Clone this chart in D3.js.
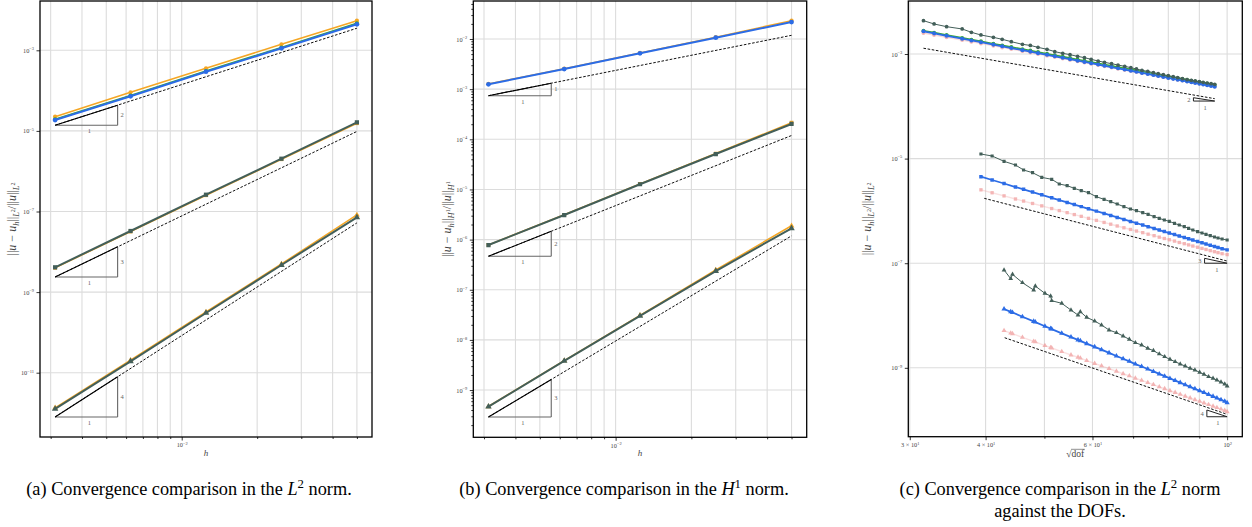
<!DOCTYPE html>
<html><head><meta charset="utf-8">
<script src="https://cdn.jsdelivr.net/npm/d3@7"></script>
<style>body{margin:0;background:#fff}svg{display:block}</style>
</head><body>
<svg id="chart" width="1252" height="527"></svg>
<script>
// ---------------- DATA ----------------
// Panels (a) and (b): mesh size h
const hValues = [3.125e-3, 6.25e-3, 1.25e-2, 2.5e-2, 5e-2];
const hRefEnds = [3.125e-3, 5e-2];
const hTriangleX = [3.125e-3, 5.55e-3];

// (a) L2 errors
const aOrder2Yellow = [2.25e-5, 9.07e-5, 3.57e-4, 1.41e-3, 5.43e-3];
const aOrder2Green  = [1.93e-5, 7.50e-5, 3.06e-4, 1.17e-3, 4.68e-3];
const aOrder2Blue   = [1.86e-5, 7.22e-5, 2.94e-4, 1.12e-3, 4.42e-3];
const aOrder3Yellow = [4.00e-9, 3.18e-8, 2.53e-7, 1.98e-6, 1.55e-5];
const aOrder3Dark   = [4.12e-9, 3.28e-8, 2.61e-7, 2.04e-6, 1.63e-5];
const aOrder4Yellow = [1.34e-12, 2.04e-11, 3.21e-10, 5.00e-9, 8.20e-8];
const aOrder4Dark   = [1.26e-12, 1.92e-11, 3.03e-10, 4.70e-9, 7.18e-8];
const aRef2 = [1.38e-5, 3.53e-3];
const aRef3 = [2.37e-9, 9.70e-6];
const aRef4 = [7.96e-13, 5.22e-8];
const aTriangleTop = [4.35e-5, 1.33e-8, 7.92e-12];
const aYTicks = [1e-3, 1e-5, 1e-7, 1e-9, 1e-11];
const aYTickLabels = ["10^−3", "10^−5", "10^−7", "10^−9", "10^−11"];

// (b) H1 errors
const bOrder1Yellow = [1.27e-3, 2.56e-3, 5.27e-3, 1.09e-2, 2.32e-2];
const bOrder1Blue   = [1.25e-3, 2.52e-3, 5.19e-3, 1.06e-2, 2.18e-2];
const bOrder2Yellow = [7.85e-7, 3.12e-6, 1.29e-5, 5.20e-5, 2.14e-4];
const bOrder2Dark   = [7.80e-7, 3.09e-6, 1.27e-5, 5.09e-5, 2.02e-4];
const bOrder3Yellow = [4.70e-10, 3.85e-9, 3.08e-8, 2.48e-7, 1.89e-6];
const bOrder3Dark   = [4.66e-10, 3.80e-9, 3.00e-8, 2.36e-7, 1.68e-6];
const bRef1 = [7.40e-4, 1.184e-2];
const bRef2 = [4.65e-7, 1.19e-4];
const bRef3 = [2.90e-10, 1.188e-6];
const bTriangleTop = [1.314e-3, 1.467e-6, 1.623e-9];
const bYTicks = [1e-2, 1e-3, 1e-4, 1e-5, 1e-6, 1e-7, 1e-8, 1e-9];
const bYTickLabels = ["10^−2", "10^−3", "10^−4", "10^−5", "10^−6", "10^−7", "10^−8", "10^−9"];

const hMajorTicks = [1e-2];
const hMajorTickLabels = ["10^−2"];
const hMinorTicks = [3e-3, 4e-3, 5e-3, 6e-3, 7e-3, 8e-3, 9e-3, 2e-2, 3e-2, 4e-2, 5e-2];

// (c) L2 errors against sqrt(dof)
const cG1X = [31.6, 32.9, 34.5, 36.6, 37.9, 39.3, 41.2, 42.6, 44.1, 46.0, 47.4, 48.8, 50.5, 52.0, 53.6, 55.1, 56.7, 58.2, 59.7, 61.3, 62.8, 64.5, 66.1, 67.8, 69.4, 70.9, 72.4, 74.0, 75.6, 77.0, 78.5, 80.0, 81.5, 82.9, 84.4, 85.9, 87.3, 88.6, 90.0, 91.3, 92.7, 94.1, 95.4];
const cG1Dark = [4.34e-3, 3.75e-3, 3.33e-3, 3.01e-3, 2.60e-3, 2.31e-3, 2.08e-3, 1.91e-3, 1.72e-3, 1.53e-3, 1.46e-3, 1.34e-3, 1.23e-3, 1.11e-3, 1.03e-3, 9.71e-4, 9.02e-4, 8.51e-4, 7.91e-4, 7.35e-4, 6.93e-4, 6.53e-4, 6.16e-4, 5.81e-4, 5.48e-4, 5.17e-4, 4.87e-4, 4.66e-4, 4.40e-4, 4.21e-4, 4.02e-4, 3.85e-4, 3.69e-4, 3.53e-4, 3.38e-4, 3.23e-4, 3.14e-4, 3.05e-4, 2.96e-4, 2.87e-4, 2.79e-4, 2.71e-4, 2.63e-4];
const cG1Green = [2.794e-3, 2.559e-3, 2.305e-3, 2.036e-3, 1.885e-3, 1.750e-3, 1.575e-3, 1.462e-3, 1.357e-3, 1.240e-3, 1.163e-3, 1.089e-3, 1.014e-3, 9.49e-4, 8.91e-4, 8.38e-4, 7.86e-4, 7.44e-4, 7.05e-4, 6.67e-4, 6.31e-4, 5.97e-4, 5.65e-4, 5.35e-4, 5.09e-4, 4.86e-4, 4.63e-4, 4.43e-4, 4.23e-4, 4.06e-4, 3.89e-4, 3.74e-4, 3.58e-4, 3.46e-4, 3.33e-4, 3.21e-4, 3.10e-4, 3.00e-4, 2.90e-4, 2.81e-4, 2.72e-4, 2.63e-4, 2.55e-4];
const cG1Blue = [2.713e-3, 2.480e-3, 2.229e-3, 1.965e-3, 1.816e-3, 1.684e-3, 1.513e-3, 1.403e-3, 1.300e-3, 1.185e-3, 1.111e-3, 1.039e-3, 9.656e-4, 9.028e-4, 8.465e-4, 7.956e-4, 7.459e-4, 7.052e-4, 6.666e-4, 6.302e-4, 5.958e-4, 5.632e-4, 5.324e-4, 5.036e-4, 4.786e-4, 4.563e-4, 4.350e-4, 4.159e-4, 3.966e-4, 3.802e-4, 3.645e-4, 3.495e-4, 3.350e-4, 3.231e-4, 3.106e-4, 2.995e-4, 2.888e-4, 2.793e-4, 2.701e-4, 2.618e-4, 2.531e-4, 2.447e-4, 2.373e-4];
const cG1Pink = [2.523e-3, 2.314e-3, 2.086e-3, 1.849e-3, 1.712e-3, 1.593e-3, 1.436e-3, 1.336e-3, 1.240e-3, 1.134e-3, 1.065e-3, 9.99e-4, 9.31e-4, 8.72e-4, 8.19e-4, 7.72e-4, 7.25e-4, 6.87e-4, 6.51e-4, 6.16e-4, 5.84e-4, 5.53e-4, 5.23e-4, 4.96e-4, 4.72e-4, 4.51e-4, 4.31e-4, 4.13e-4, 3.94e-4, 3.78e-4, 3.63e-4, 3.48e-4, 3.35e-4, 3.23e-4, 3.11e-4, 3.00e-4, 2.90e-4, 2.81e-4, 2.72e-4, 2.64e-4, 2.55e-4, 2.47e-4, 2.40e-4];

const cG2X = [39.3, 41.0, 42.9, 44.8, 46.2, 47.8, 49.5, 51.4, 52.9, 54.5, 56.0, 57.5, 59.1, 60.9, 62.7, 64.3, 65.9, 67.6, 69.3, 70.9, 72.6, 74.1, 75.8, 77.3, 78.8, 80.3, 81.9, 83.4, 85.0, 86.4, 87.8, 89.4, 90.9, 92.3, 93.8, 95.3, 96.6, 98.1, 100.0];
const cG2Dark = [1.224e-5, 1.121e-5, 8.87e-6, 7.54e-6, 6.05e-6, 5.38e-6, 4.38e-6, 4.02e-6, 3.27e-6, 3.04e-6, 2.70e-6, 2.44e-6, 2.23e-6, 1.87e-6, 1.66e-6, 1.50e-6, 1.355e-6, 1.205e-6, 1.087e-6, 1.010e-6, 9.25e-7, 8.60e-7, 7.76e-7, 7.21e-7, 6.70e-7, 6.32e-7, 5.78e-7, 5.37e-7, 4.99e-7, 4.64e-7, 4.31e-7, 4.01e-7, 3.78e-7, 3.56e-7, 3.36e-7, 3.17e-7, 3.03e-7, 2.90e-7, 2.78e-7];
const cG2Blue = [4.513e-6, 3.900e-6, 3.342e-6, 2.861e-6, 2.585e-6, 2.294e-6, 2.035e-6, 1.783e-6, 1.610e-6, 1.454e-6, 1.320e-6, 1.208e-6, 1.096e-6, 9.90e-7, 8.94e-7, 8.18e-7, 7.49e-7, 6.86e-7, 6.30e-7, 5.82e-7, 5.38e-7, 4.99e-7, 4.63e-7, 4.31e-7, 4.03e-7, 3.77e-7, 3.53e-7, 3.31e-7, 3.11e-7, 2.93e-7, 2.77e-7, 2.60e-7, 2.46e-7, 2.33e-7, 2.20e-7, 2.09e-7, 1.99e-7, 1.89e-7, 1.80e-7];
const cG2Pink = [2.529e-6, 2.222e-6, 1.938e-6, 1.689e-6, 1.543e-6, 1.388e-6, 1.249e-6, 1.110e-6, 1.015e-6, 9.27e-7, 8.51e-7, 7.87e-7, 7.21e-7, 6.59e-7, 6.02e-7, 5.57e-7, 5.15e-7, 4.76e-7, 4.42e-7, 4.12e-7, 3.84e-7, 3.59e-7, 3.36e-7, 3.15e-7, 2.97e-7, 2.81e-7, 2.65e-7, 2.49e-7, 2.36e-7, 2.24e-7, 2.13e-7, 2.02e-7, 1.92e-7, 1.83e-7, 1.74e-7, 1.66e-7, 1.59e-7, 1.52e-7, 1.46e-7];

const cG3X = [42.9, 44.0, 44.3, 46.0, 48.0, 48.3, 50.1, 51.2, 51.4, 53.4, 55.3, 56.8, 57.3, 58.7, 60.5, 62.1, 63.9, 65.7, 67.4, 69.0, 70.6, 72.3, 74.0, 75.6, 77.3, 78.9, 80.5, 82.1, 83.7, 85.3, 86.9, 88.5, 90.1, 91.6, 93.2, 94.8, 96.2, 97.7, 99.1, 100.0];
const cG3Dark = [7.41e-8, 5.06e-8, 6.12e-8, 4.24e-8, 3.07e-8, 3.66e-8, 2.65e-8, 2.36e-8, 1.92e-8, 1.71e-8, 1.27e-8, 1.02e-8, 1.18e-8, 9.22e-9, 7.85e-9, 6.58e-9, 5.28e-9, 4.70e-9, 4.06e-9, 3.50e-9, 3.02e-9, 2.73e-9, 2.36e-9, 2.13e-9, 1.84e-9, 1.63e-9, 1.45e-9, 1.31e-9, 1.18e-9, 1.08e-9, 9.77e-10, 9.08e-10, 8.19e-10, 7.50e-10, 6.77e-10, 6.29e-10, 5.84e-10, 5.35e-10, 4.90e-10, 4.49e-10];
const cG3Blue = [1.331e-8, 1.177e-8, 1.141e-8, 9.48e-9, 7.73e-9, 7.50e-9, 6.23e-9, 5.61e-9, 5.51e-9, 4.57e-9, 3.87e-9, 3.42e-9, 3.28e-9, 2.90e-9, 2.51e-9, 2.22e-9, 1.93e-9, 1.68e-9, 1.49e-9, 1.33e-9, 1.18e-9, 1.06e-9, 9.48e-10, 8.53e-10, 7.64e-10, 6.92e-10, 6.27e-10, 5.71e-10, 5.21e-10, 4.75e-10, 4.33e-10, 3.97e-10, 3.64e-10, 3.36e-10, 3.08e-10, 2.84e-10, 2.64e-10, 2.45e-10, 2.29e-10, 2.15e-10];
const cG3Pink = [5.14e-9, 4.62e-9, 4.49e-9, 3.83e-9, 3.21e-9, 3.13e-9, 2.66e-9, 2.43e-9, 2.39e-9, 2.04e-9, 1.76e-9, 1.59e-9, 1.53e-9, 1.37e-9, 1.21e-9, 1.09e-9, 9.65e-10, 8.59e-10, 7.71e-10, 7.01e-10, 6.33e-10, 5.75e-10, 5.22e-10, 4.77e-10, 4.33e-10, 3.98e-10, 3.65e-10, 3.37e-10, 3.11e-10, 2.87e-10, 2.65e-10, 2.46e-10, 2.28e-10, 2.13e-10, 1.98e-10, 1.84e-10, 1.73e-10, 1.62e-10, 1.53e-10, 1.45e-10];

const cRef1X = [31.6, 95.4], cRef1Y = [1.29e-3, 1.40e-4];
const cRef2X = [39.8, 100],  cRef2Y = [1.74e-6, 1.10e-7];
const cRef3X = [43.0, 100],  cRef3Y = [3.76e-9, 1.29e-10];
const cTri1 = {x: [88.0, 95.4], y: [1.26e-4, 1.46e-4]};
const cTri2 = {x: [91.8, 100],  y: [1.00e-7, 1.24e-7]};
const cTri3 = {x: [92.6, 100],  y: [1.16e-10, 1.56e-10]};
const cXGrid = [30, 40, 50, 60, 70, 80, 90, 100];
const cXTicks = [30, 40, 60, 100];
const cXTickLabels = ["3 × 10^1", "4 × 10^1", "6 × 10^1", "10^2"];
const cYTicks = [1e-3, 1e-5, 1e-7, 1e-9];
const cYTickLabels = ["10^−3", "10^−5", "10^−7", "10^−9"];

const captions = [
  ["(a) Convergence comparison in the ", "L", "2", " norm."],
  ["(b) Convergence comparison in the ", "H", "1", " norm."],
  ["(c) Convergence comparison in the ", "L", "2", " norm"]
];

// ---------------- DRAWING ----------------
const svg = d3.select('#chart');
const SERIF = "'Liberation Serif','DejaVu Serif',serif";
const COL = {yellow:'#f5a623', green:'#38a838', blue:'#2c6ce6', dark:'#435f59', pink:'#f09c9c', grid:'#dcdcdc', leg:'#666'};

function rich(sel, segs, fs) {
  let prev = 0;
  segs.forEach(s => {
    const t = sel.append('tspan').text(s.t).attr('font-size', fs * (s.s || 1));
    if (s.i) t.attr('font-style', 'italic');
    const off = (s.o || 0) * fs;
    if (off !== prev) t.attr('dy', off - prev);
    prev = off;
  });
}
function powSegs(str) {
  const p = str.split('^');
  return p.length === 1 ? [{t: p[0]}] : [{t: p[0]}, {t: p[1], o: -0.42, s: 0.7}];
}

let clipId = 0;
function panel(cfg) {
  const g = svg.append('g');
  const x = d3.scaleLog().domain(cfg.xDomain).range([cfg.left, cfg.right]);
  const y = d3.scaleLog().domain(cfg.yDomain).range([cfg.bottom, cfg.top]);
  // grid
  g.append('g').selectAll('line').data(cfg.xGrid).join('line')
    .attr('x1', d => x(d)).attr('x2', d => x(d)).attr('y1', cfg.top).attr('y2', cfg.bottom)
    .attr('stroke', COL.grid).attr('stroke-width', 1.1);
  g.append('g').selectAll('line').data(cfg.yTicks).join('line')
    .attr('y1', d => y(d)).attr('y2', d => y(d)).attr('x1', cfg.left).attr('x2', cfg.right)
    .attr('stroke', COL.grid).attr('stroke-width', 1.1);

  const id = 'clip' + (clipId++);
  svg.append('clipPath').attr('id', id).append('rect')
    .attr('x', cfg.left).attr('y', cfg.top).attr('width', cfg.right - cfg.left).attr('height', cfg.bottom - cfg.top);
  const plot = g.append('g').attr('clip-path', `url(#${id})`);

  // reference lines
  cfg.refs.forEach(r => {
    plot.append('path').attr('d', d3.line().x(d => x(d[0])).y(d => y(d[1]))(r.x.map((v, i) => [v, r.y[i]])))
      .attr('fill', 'none').attr('stroke', '#111').attr('stroke-width', 1).attr('stroke-dasharray', '2.6,1.6');
  });
  // triangles
  cfg.tris.forEach(t => {
    const x0 = x(t.x[0]), x1 = x(t.x[1]), yl = y(t.y[0]), yh = y(t.y[1]);
    const lg = plot.append('g');
    if (t.dir === 'up') {
      lg.append('line').attr('x1', x0).attr('y1', yl).attr('x2', x1).attr('y2', yl).attr('stroke', COL.leg).attr('stroke-width', 1.1);
      lg.append('line').attr('x1', x1).attr('y1', yl).attr('x2', x1).attr('y2', yh).attr('stroke', COL.leg).attr('stroke-width', 1.1);
      lg.append('line').attr('x1', x0).attr('y1', yl).attr('x2', x1).attr('y2', yh).attr('stroke', '#000').attr('stroke-width', 1.1);
      lg.append('text').attr('x', x1 + 3).attr('y', (yl + yh) / 2 + 2).text(t.k)
        .attr('font-family', SERIF).attr('font-size', 6.5).attr('fill', '#666');
      lg.append('text').attr('x', (x0 + x1) / 2 + 3).attr('y', yl + 8).attr('text-anchor', 'middle').text('1')
        .attr('font-family', SERIF).attr('font-size', 6.5).attr('fill', '#666');
    } else {
      lg.append('path').attr('d', `M${x0},${yh}L${x0},${yl}L${x1},${yl}Z`).attr('fill', 'none').attr('stroke', '#222').attr('stroke-width', 1);
      lg.append('text').attr('x', x0 - 3).attr('y', (yl + yh) / 2 + 2.5).attr('text-anchor', 'end').text(t.k)
        .attr('font-family', SERIF).attr('font-size', 6.5).attr('fill', '#666');
      lg.append('text').attr('x', (x0 + x1) / 2 + 1).attr('y', yl + 8.5).attr('text-anchor', 'middle').text('1')
        .attr('font-family', SERIF).attr('font-size', 6.5).attr('fill', '#666');
    }
  });
  // series
  cfg.series.forEach(s => {
    const pts = s.x.map((v, i) => [v, s.y[i]]);
    const sg = plot.append('g').attr('opacity', s.op || 1);
    sg.append('path').attr('d', d3.line().x(d => x(d[0])).y(d => y(d[1]))(pts))
      .attr('fill', 'none').attr('stroke', s.c).attr('stroke-width', s.lw).attr('stroke-opacity', s.lop || 1)
      .attr('stroke-linejoin', 'round');
    sg.selectAll('path.m').data(pts).join('path').attr('class', 'm')
      .attr('transform', d => `translate(${x(d[0])},${y(d[1])})`)
      .attr('d', d3.symbol().type(s.m).size(s.ms))
      .attr('fill', s.c);
  });

  // axes
  const styleAxis = (ga) => {
    ga.select('.domain').remove();
    ga.selectAll('.tick line').attr('stroke', '#000').attr('stroke-width', 0.8);
    ga.attr('font-family', SERIF).attr('font-size', 6.3);
    ga.selectAll('.tick text').attr('fill', '#444').each(function () {
      const s = this.textContent; const t = d3.select(this); t.text(null); rich(t, powSegs(s), 6.3);
    });
  };
  const xMaj = d3.axisBottom(x).tickValues(cfg.xTicks).tickSize(3.5).tickPadding(2.5)
    .tickFormat((d, i) => cfg.xTickLabels[i]);
  g.append('g').attr('transform', `translate(0,${cfg.bottom})`).call(xMaj).call(styleAxis);
  if (cfg.xMinor) {
    g.append('g').attr('transform', `translate(0,${cfg.bottom})`)
      .call(d3.axisBottom(x).tickValues(cfg.xMinor).tickSize(2).tickFormat(() => '')).call(styleAxis);
  }
  const yMaj = d3.axisLeft(y).tickValues(cfg.yTicks).tickSize(3.5).tickPadding(2.5)
    .tickFormat((d, i) => cfg.yTickLabels[i]);
  g.append('g').attr('transform', `translate(${cfg.left},0)`).call(yMaj).call(styleAxis);
  if (cfg.yMinor) {
    g.append('g').attr('transform', `translate(${cfg.left},0)`)
      .call(d3.axisLeft(y).tickValues(cfg.yMinor).tickSize(2).tickFormat(() => '')).call(styleAxis);
  }
  // frame
  g.append('rect').attr('x', cfg.left).attr('y', cfg.top).attr('width', cfg.right - cfg.left)
    .attr('height', cfg.bottom - cfg.top).attr('fill', 'none').attr('stroke', '#000').attr('stroke-width', 1.3);

  // y label
  const cy = (cfg.top + cfg.bottom) / 2;
  const yl = g.append('text').attr('transform', `translate(${cfg.ylabelX},${cy}) rotate(-90)`)
    .attr('text-anchor', 'middle').attr('font-family', SERIF).attr('fill', '#444').attr('dy', 4);
  const n = cfg.norm;
  rich(yl, [{t: '||'}, {t: 'u', i: 1}, {t: ' − '}, {t: 'u', i: 1}, {t: 'h', i: 1, o: 0.25, s: 0.7}, {t: '||'},
    {t: n[0], i: 1, o: 0.25, s: 0.7}, {t: n[1], o: -0.05, s: 0.5}, {t: '/||'}, {t: 'u', i: 1}, {t: '||'},
    {t: n[0], i: 1, o: 0.25, s: 0.7}, {t: n[1], o: -0.05, s: 0.5}], 12);

  // x label
  const cx = (cfg.left + cfg.right) / 2;
  if (cfg.xlabel === 'h') {
    g.append('text').attr('x', cx).attr('y', 456).attr('text-anchor', 'middle').attr('font-family', SERIF)
      .attr('font-style', 'italic').attr('font-size', 9).attr('fill', '#444').text('h');
  } else {
    const t1 = g.append('text').attr('y', 457).attr('font-family', SERIF).attr('font-size', 9.5).attr('fill', '#444').text('√');
    const t2 = g.append('text').attr('y', 457).attr('font-family', SERIF).attr('font-size', 9.5).attr('fill', '#444').text('dof');
    const w1 = t1.node().getComputedTextLength(), w2 = t2.node().getComputedTextLength();
    const sx = cx - (w1 + w2) / 2;
    t1.attr('x', sx); t2.attr('x', sx + w1);
    g.append('line').attr('x1', sx + w1 - 0.5).attr('x2', sx + w1 + w2 + 0.5).attr('y1', 449.3).attr('y2', 449.3)
      .attr('stroke', '#444').attr('stroke-width', 0.6);
  }
  // caption
  const cap = g.append('text').attr('x', cfg.capX).attr('y', 495).attr('text-anchor', 'middle')
    .attr('font-family', SERIF).attr('fill', '#000');
  const c = cfg.caption;
  rich(cap, [{t: c[0]}, {t: c[1], i: 1}, {t: c[2], o: -0.4, s: 0.7}, {t: c[3]}], 18.3);
  if (cfg.caption2) {
    g.append('text').attr('x', cfg.capX).attr('y', 517).attr('text-anchor', 'middle')
      .attr('font-family', SERIF).attr('font-size', 18.3).attr('fill', '#000').text(cfg.caption2);
  }
}

const yMinorB = [];
bYTicks.forEach(t => { for (let k = 2; k <= 9; k++) { if (t * k < 6e-2) yMinorB.push(t * k); } });
yMinorB.push(...[2e-10, 3e-10, 4e-10, 5e-10, 6e-10, 7e-10, 8e-10, 9e-10].filter(v => v > 1.15e-10));

const hx = hValues;
const S = (x, y, c, m, lw, ms, extra) => Object.assign({x, y, c, m, lw, ms}, extra || {});
const circ = d3.symbolCircle, sq = d3.symbolSquare, tri = d3.symbolTriangle;

panel({
  left: 40, right: 372, top: 1, bottom: 437,
  xDomain: [Math.pow(10, -2.5654), Math.pow(10, -1.2408)],
  yDomain: [Math.pow(10, -12.5955), Math.pow(10, -1.7767)],
  xGrid: hMinorTicks.concat(hMajorTicks), xTicks: hMajorTicks, xTickLabels: hMajorTickLabels, xMinor: hMinorTicks,
  yTicks: aYTicks, yTickLabels: aYTickLabels,
  refs: [{x: hRefEnds, y: aRef2}, {x: hRefEnds, y: aRef3}, {x: hRefEnds, y: aRef4}],
  tris: [
    {dir: 'up', x: hTriangleX, y: [aRef2[0], aTriangleTop[0]], k: '2'},
    {dir: 'up', x: hTriangleX, y: [aRef3[0], aTriangleTop[1]], k: '3'},
    {dir: 'up', x: hTriangleX, y: [aRef4[0], aTriangleTop[2]], k: '4'}],
  series: [
    S(hx, aOrder2Yellow, COL.yellow, circ, 1.5, 14),
    S(hx, aOrder2Green, COL.green, circ, 1.8, 14),
    S(hx, aOrder2Blue, COL.blue, circ, 2, 18),
    S(hx, aOrder3Yellow, COL.yellow, sq, 1.5, 14),
    S(hx, aOrder3Dark, COL.dark, sq, 2, 18),
    S(hx, aOrder4Yellow, COL.yellow, tri, 1.5, 14),
    S(hx, aOrder4Dark, COL.dark, tri, 2, 18)],
  ylabelX: 11.7, norm: ['L', '2'], xlabel: 'h', capX: 189, caption: captions[0]
});

panel({
  left: 473.3, right: 806.7, top: 1, bottom: 437.3,
  xDomain: [Math.pow(10, -2.5654), Math.pow(10, -1.2408)],
  yDomain: [Math.pow(10, -9.942), Math.pow(10, -1.2423)],
  xGrid: hMinorTicks.concat(hMajorTicks), xTicks: hMajorTicks, xTickLabels: hMajorTickLabels, xMinor: hMinorTicks,
  yTicks: bYTicks, yTickLabels: bYTickLabels, yMinor: yMinorB,
  refs: [{x: hRefEnds, y: bRef1}, {x: hRefEnds, y: bRef2}, {x: hRefEnds, y: bRef3}],
  tris: [
    {dir: 'up', x: hTriangleX, y: [bRef1[0], bTriangleTop[0]], k: '1'},
    {dir: 'up', x: hTriangleX, y: [bRef2[0], bTriangleTop[1]], k: '2'},
    {dir: 'up', x: hTriangleX, y: [bRef3[0], bTriangleTop[2]], k: '3'}],
  series: [
    S(hx, bOrder1Yellow, COL.yellow, circ, 1.5, 14),
    S(hx, bOrder1Blue, COL.blue, circ, 2, 18),
    S(hx, bOrder2Yellow, COL.yellow, sq, 1.5, 14),
    S(hx, bOrder2Dark, COL.dark, sq, 2, 18),
    S(hx, bOrder3Yellow, COL.yellow, tri, 1.5, 14),
    S(hx, bOrder3Dark, COL.dark, tri, 2, 18)],
  ylabelX: 446.7, norm: ['H', '1'], xlabel: 'h', capX: 624, caption: captions[1]
});

panel({
  left: 908.3, right: 1242.3, top: 1, bottom: 436.7,
  xDomain: [Math.pow(10, 1.4747), Math.pow(10, 2.025)],
  yDomain: [Math.pow(10, -10.317), Math.pow(10, -1.9866)],
  xGrid: cXGrid, xTicks: cXTicks, xTickLabels: cXTickLabels, xMinor: cXGrid.filter(v => !cXTicks.includes(v)),
  yTicks: cYTicks, yTickLabels: cYTickLabels,
  refs: [{x: cRef1X, y: cRef1Y}, {x: cRef2X, y: cRef2Y}, {x: cRef3X, y: cRef3Y}],
  tris: [
    {dir: 'down', x: cTri1.x, y: cTri1.y, k: '2'},
    {dir: 'down', x: cTri2.x, y: cTri2.y, k: '3'},
    {dir: 'down', x: cTri3.x, y: cTri3.y, k: '4'}],
  series: [
    S(cG1X, cG1Pink, COL.pink, circ, 1.4, 12, {op: 0.75, lop: 0.5}),
    S(cG1X, cG1Green, COL.green, circ, 1.6, 12),
    S(cG1X, cG1Blue, COL.blue, circ, 1.8, 13),
    S(cG1X, cG1Dark, COL.dark, circ, 1, 11),
    S(cG2X, cG2Pink, COL.pink, sq, 1.4, 11, {op: 0.75, lop: 0.4}),
    S(cG2X, cG2Blue, COL.blue, sq, 1.8, 12),
    S(cG2X, cG2Dark, COL.dark, sq, 1, 10),
    S(cG3X, cG3Pink, COL.pink, tri, 1.4, 11, {op: 0.75, lop: 0.4}),
    S(cG3X, cG3Blue, COL.blue, tri, 1.8, 12),
    S(cG3X, cG3Dark, COL.dark, tri, 1, 10)],
  ylabelX: 867.3, norm: ['L', '2'], xlabel: 'sqrt', capX: 1060, caption: captions[2], caption2: 'against the DOFs.'
});
</script>
</body></html>
